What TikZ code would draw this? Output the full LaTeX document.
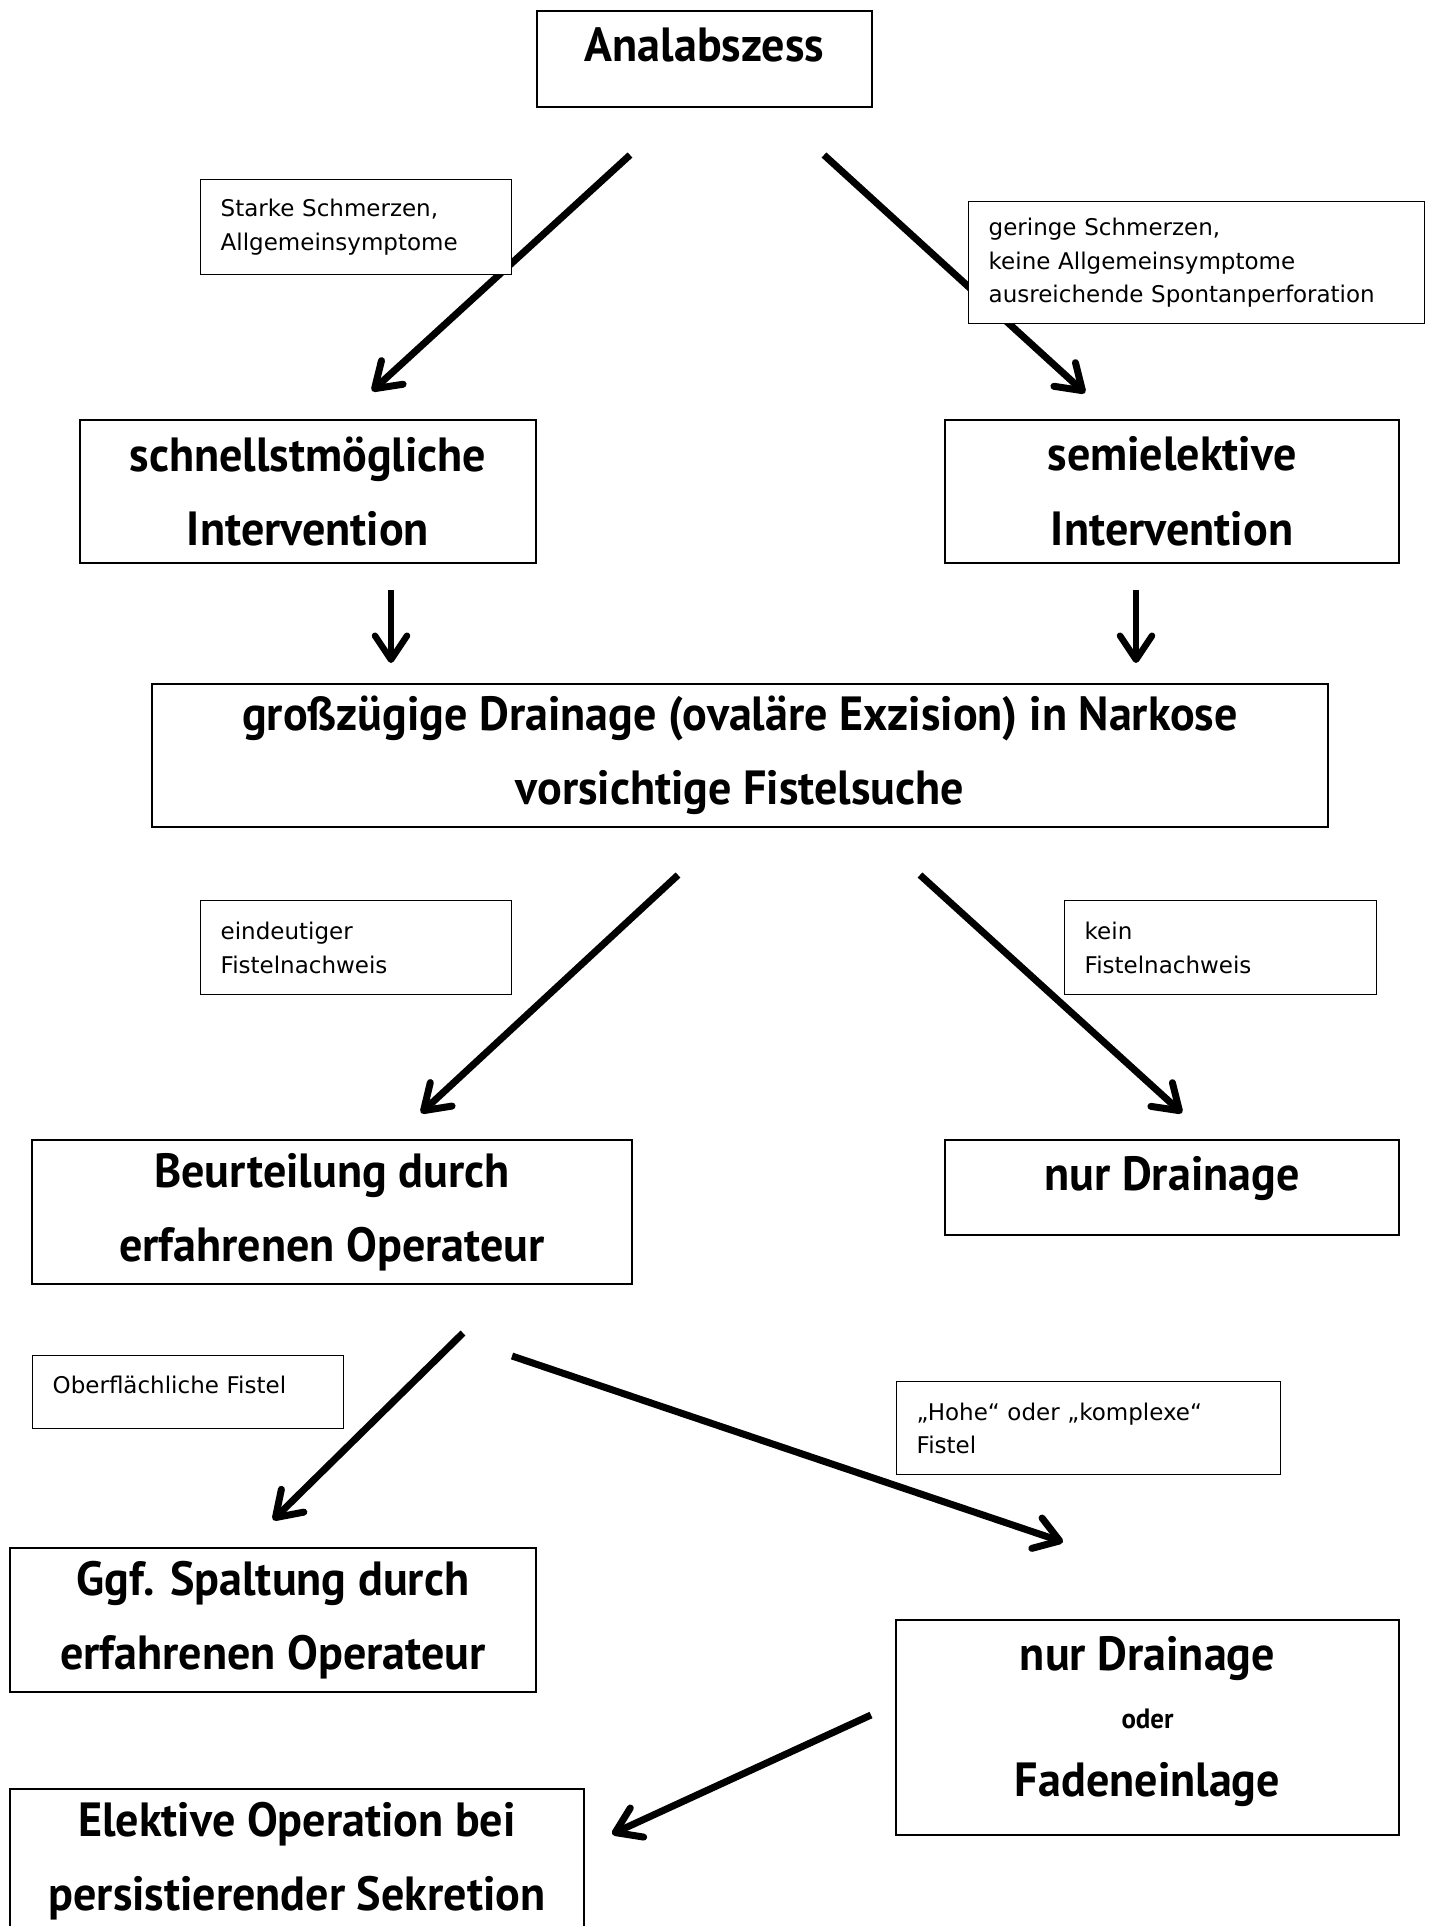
\documentclass[tikz,border=0pt]{standalone}
\usepackage{fontspec}
\setmainfont{DejaVu Sans}
\newfontfamily\stagefont[FakeStretch=0.96]{PT Sans}
\usetikzlibrary{positioning,arrows.meta}

\begin{document}
\begin{tikzpicture}[x=1pt,y=-1pt,
		stage/.style={draw, line width=1.6pt, align=center, inner sep=0pt,
			font=\stagefont\bfseries\fontsize{48}{74.5}\selectfont},
		stageone/.style={stage, text height=36pt, text depth=30pt},
		reason/.style={draw, fill=white, line width=1.4pt, anchor=north west, align=left,
			inner xsep=20pt, inner ysep=0pt, font=\fontsize{23}{33.5}\selectfont},
		flow/.style={line width=7pt, -{Straight Barb[length=24pt,width=32pt,round]}},
		down/.style={line width=6.5pt, -{Straight Barb[length=24pt,width=32pt,round]},
			preaction={draw=black!35, transform canvas={shift={(1.5pt,-2pt)}}}}
		]
		
		\useasboundingbox (0,0) rectangle (1435,1926);
		
		\node[stageone, minimum width=335pt, minimum height=96pt] (abscess) at (704.5,59) {Analabszess};
		
		\node[stage, minimum width=456pt, minimum height=143pt] (urgent) at (308,491.5) {schnellstmögliche\\Intervention};
		\node[stage, minimum width=454pt, minimum height=143pt] (semi) at (1172,491.5) {semielektive\\Intervention};
		
		\node[stage, minimum width=1176pt, minimum height=143pt] (drainage) at (740,755.5)
			{großzügige Drainage (ovaläre Exzision) in Narkose\\vorsichtige Fistelsuche};
		
		\node[stage, minimum width=600pt, minimum height=144pt] (assess) at (332,1212) {Beurteilung durch\\erfahrenen Operateur};
		\node[stageone, minimum width=454pt, minimum height=95pt] (onlydrain) at (1172,1187.5) {nur Drainage};
		
		\node[stage, minimum width=526pt, minimum height=144pt] (split) at (273,1620) {Ggf. Spaltung durch\\erfahrenen Operateur};
		\node[stage, minimum width=503pt, minimum height=215pt] (seton) at (1147.5,1727.5)
			{nur Drainage\\[-16pt]{\fontsize{28}{30}\selectfont oder}\\[-7pt]Fadeneinlage\rule[-23pt]{0pt}{0pt}};
		\node[stage, minimum width=574pt, minimum height=144pt] (elective) at (297,1861) {Elektive Operation bei\\persistierender Sekretion};
		
		\coordinate (abscess-l) at (630,155);
		\coordinate (abscess-r) at (824,155);
		\coordinate (urgent-in) at (372,391);
		\coordinate (semi-in) at (1085,393);
		\coordinate (urgent-out) at (391,590);
		\coordinate (semi-out) at (1136,590);
		\coordinate (drainage-in-l) at (391,663);
		\coordinate (drainage-in-r) at (1136,663);
		\coordinate (drainage-l) at (678,875);
		\coordinate (drainage-r) at (920,875);
		\coordinate (assess-in) at (421,1113);
		\coordinate (onlydrain-in) at (1182,1113);
		\coordinate (assess-l) at (463,1333);
		\coordinate (assess-r) at (512,1356);
		\coordinate (split-in) at (273,1520);
		\coordinate (seton-in) at (1063,1542);
		\coordinate (seton-out) at (871,1715);
		\coordinate (elective-in) at (612,1834);
		
		\draw[flow] (abscess-l) -- (urgent-in);
		\draw[flow] (abscess-r) -- (semi-in);
		\draw[down] (urgent-out) -- (drainage-in-l);
		\draw[down] (semi-out) -- (drainage-in-r);
		\draw[flow] (drainage-l) -- (assess-in);
		\draw[flow] (drainage-r) -- (onlydrain-in);
		\draw[flow] (assess-l) -- (split-in);
		\draw[flow] (assess-r) -- (seton-in);
		\draw[flow] (seton-out) -- (elective-in);
		
		\node[reason, text width=271pt, minimum height=95pt] (severe) at (200,179) {Starke Schmerzen,\\Allgemeinsymptome};
		\node[reason, text width=416pt, minimum height=122pt] (mild) at (968,201)
			{geringe Schmerzen,\\keine Allgemeinsymptome\\ausreichende Spontanperforation};
		\node[reason, text width=271pt, minimum height=94pt] (fistula) at (200,900) {eindeutiger\\Fistelnachweis};
		\node[reason, text width=272pt, minimum height=94pt] (nofistula) at (1064,900) {kein\\Fistelnachweis};
		\node[reason, text width=271pt, minimum height=73pt] (superficial) at (32,1355) {Oberflächliche Fistel\rule[-14pt]{0pt}{0pt}};
		\node[reason, text width=344pt, minimum height=93pt] (complex) at (896,1381) {„Hohe“ oder „komplexe“\\Fistel};
		
	\end{tikzpicture}
\end{document}
